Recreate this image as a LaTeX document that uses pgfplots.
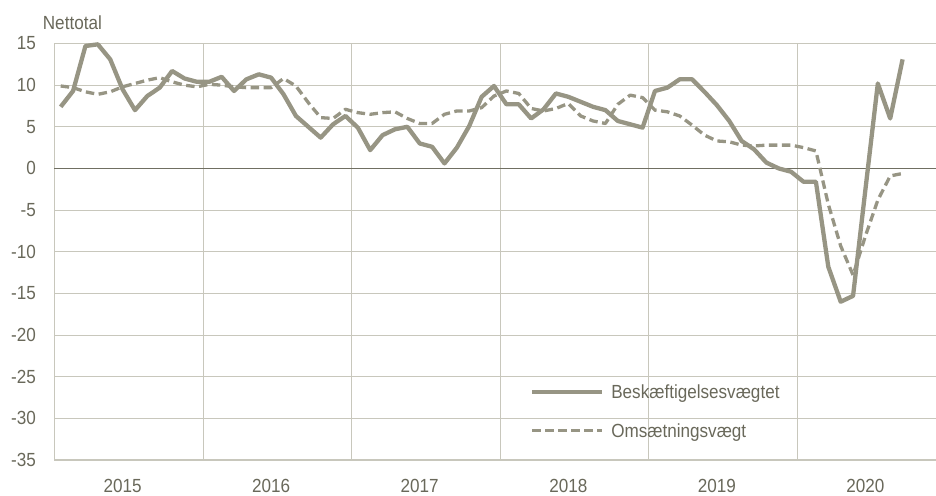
\documentclass[border=0pt]{standalone}
\usepackage{fontspec}
\setmainfont{Liberation Sans}[FakeStretch=0.9]
\usepackage{pgfplots}
\pgfplotsset{compat=1.18}
\usepackage{pgfplotstable}
\definecolor{linec}{RGB}{151,149,132}
\definecolor{gridc}{RGB}{200,199,188}
\definecolor{zeroc}{RGB}{112,111,98}
\definecolor{textc}{RGB}{105,104,90}
\newcommand{\lblfont}{\fontsize{19pt}{22pt}\selectfont}
\pgfplotstableread{
i b o
0 7.4 9.9
1 9.3 9.7
2 14.7 9.2
3 14.9 8.9
4 13.1 9.2
5 9.5 9.8
6 7.0 10.2
7 8.7 10.6
8 9.7 10.9
9 11.7 10.4
10 10.8 10.0
11 10.4 9.8
12 10.4 10.1
13 11.0 10.0
14 9.3 9.8
15 10.7 9.7
16 11.3 9.7
17 10.9 9.7
18 8.9 10.8
19 6.3 9.9
20 5.0 7.9
21 3.7 6.1
22 5.3 6.0
23 6.3 7.1
24 4.9 6.7
25 2.2 6.5
26 4.0 6.7
27 4.7 6.8
28 5.0 6.0
29 3.0 5.4
30 2.6 5.4
31 0.6 6.5
32 2.5 6.9
33 5.1 6.9
34 8.6 7.3
35 9.9 8.7
36 7.7 9.3
37 7.7 9.0
38 6.0 7.2
39 7.1 6.9
40 9.0 7.2
41 8.6 7.8
42 8.0 6.3
43 7.4 5.7
44 7.0 5.4
45 5.7 7.7
46 5.3 8.8
47 4.9 8.5
48 9.3 7.0
49 9.7 6.8
50 10.7 6.3
51 10.7 5.2
52 9.2 4.0
53 7.6 3.3
54 5.7 3.2
55 3.3 2.8
56 2.3 2.7
57 0.7 2.8
58 0.0 2.8
59 -0.4 2.8
60 -1.6 2.5
61 -1.6 2.1
62 -11.8 -4.3
63 -16.0 -9.3
64 -15.3 -12.8
65 -2.5 -8.1
66 10.2 -3.8
67 6.0 -0.9
68 13.1 -0.6
}\data
\begin{document}
\begin{tikzpicture}
\begin{axis}[
  at={(0pt,0pt)}, anchor=south west,
  scale only axis, width=881.5pt, height=416.5pt,
  xmin=-0.5, xmax=70.7, ymin=-35, ymax=15,
  clip=false,
  axis lines*=left,
  axis line style={gridc, line width=1.3pt},
  tick style={draw=none},
  major tick length=0pt,
  ytick={-35,-30,-25,-20,-15,-10,-5,0,5,10,15},
  yticklabels={-35,-30,-25,-20,-15,-10,-5,0,5,10,15},
  ymajorgrids,
  major grid style={gridc, line width=1pt},
  xtick={5,17,29,41,53,65},
  xticklabels={2015,2016,2017,2018,2019,2020},
  minor xtick={11.5,23.5,35.5,47.5,59.5},
  xminorgrids,
  minor grid style={gridc, line width=1pt},
  extra y ticks={0},
  extra y tick labels={},
  extra y tick style={grid=major, major grid style={zeroc, line width=1.6pt}},
  yticklabel style={anchor=east, inner sep=0pt, xshift=-18.5pt, font=\lblfont, text=textc},
  xticklabel style={anchor=base, inner sep=0pt, yshift=-32pt, font=\lblfont, text=textc},
  legend style={at={(0,1)}, anchor=north west, xshift=475.5pt, yshift=-341.5pt,
    draw=none, fill=none, inner sep=0pt, outer sep=0pt,
    row sep=25.4pt, column sep=7pt, font=\lblfont, text=textc,
    nodes={inner sep=0pt, text height=13.6pt, text depth=0pt}},
  legend cell align=left,
  legend image code/.code={\draw[#1] (0pt,0pt) -- (70pt,0pt);},
]
\addplot[linec, line width=4.3pt, line join=round] table[x=i,y=b]{\data};
\addlegendentry{Beskæftigelsesvægtet}
\addplot[linec, line width=3.3pt, dash pattern=on 8.5pt off 4.5pt, line join=round] table[x=i,y=o]{\data};
\addlegendentry{Omsætningsvægt}
\node[anchor=base west, inner sep=0pt, font=\lblfont, text=textc, xshift=-11.8pt, yshift=13.5pt] at (rel axis cs:0,1) {Nettotal};
\end{axis}
\pgfresetboundingbox
\path[use as bounding box] (-54.5pt,-35pt) rectangle (881.5pt,460pt);
\end{tikzpicture}
\end{document}
